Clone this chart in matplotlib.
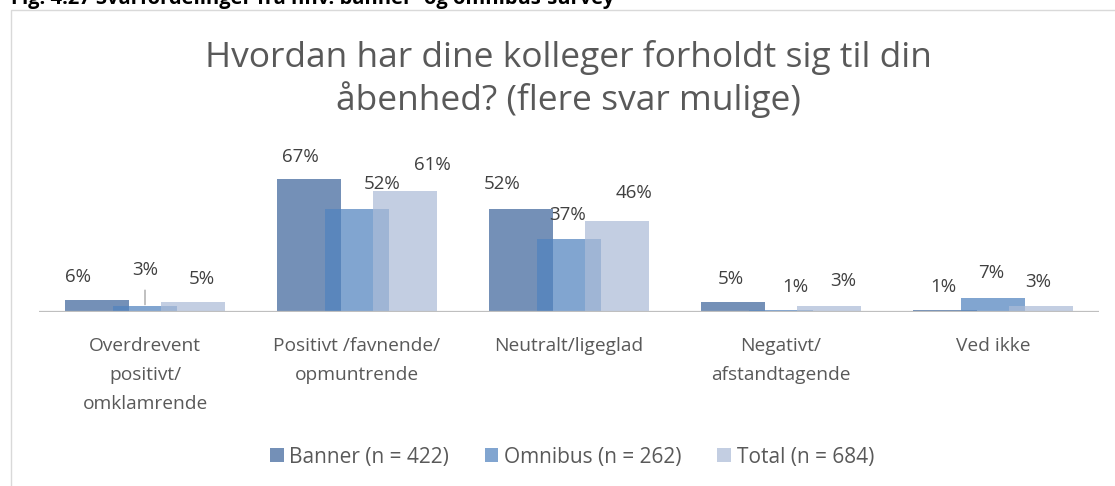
"""Grouped bar chart: colleagues' reaction to openness (banner vs omnibus survey)."""

import matplotlib

matplotlib.use("Agg")
import numpy as np
from matplotlib import pyplot as plt
from matplotlib.patches import Patch, Rectangle

categories = [
    "Overdrevent\npositivt/\nomklamrende",
    "Positivt /favnende/\nopmuntrende",
    "Neutralt/ligeglad",
    "Negativt/\nafstandtagende",
    "Ved ikke",
]
series_names = ["Banner (n = 422)", "Omnibus (n = 262)", "Total (n = 684)"]
banner = [6, 67, 52, 5, 1]
omnibus = [3, 52, 37, 1, 7]
total = [5, 61, 46, 3, 3]

title = "Hvordan har dine kolleger forholdt sig til din\nåbenhed? (flere svar mulige)"
heading = "Fig. 4.27 Svarfordelinger fra hhv. banner- og omnibus-survey"

# styling
colors = ["#3E669C", "#5183BE", "#ACBCD8"]
alpha = 0.72
offsets = [-0.2264, 0.0, 0.2264]
bar_width = 0.302
# label offsets in pixels (dx, dy from bar top to text centre), mimicking Excel placement
label_offsets = [
    [(-19, 23), (-9, 22), (-19, 25), (-2, 23), (-2, 23)],
    [(0, 36), (25, 25), (-1, 24), (14, 23), (-2, 25)],
    [(9, 23), (27, 26), (17, 28), (14, 25), (-3, 24)],
]
font = "Open Sans"
text_gray = "#595959"

W, H, DPI = 1115, 486, 100
fig = plt.figure(figsize=(W / DPI, H / DPI), dpi=DPI)

# chart frame border (only top/left visible in the crop)
fig.add_artist(Rectangle((10.5 / W, -0.2), 1.2, (H - 10.5) / H + 0.2,
                         transform=fig.transFigure, fill=False,
                         edgecolor="#D9D9D9", linewidth=1.0))
# page heading, cropped at the top edge as in the screenshot
fig.text(11 / W, (H - 4) / H, heading, fontfamily=font, fontweight="bold",
         fontsize=14.5, color="black", ha="left", va="baseline")

ax_left, ax_right, ax_bottom, ax_top = 39, 1099, 312, 150
ax = fig.add_axes([ax_left / W, (H - ax_bottom) / H,
                   (ax_right - ax_left) / W, (ax_bottom - ax_top) / H])

x = np.arange(len(categories))
all_series = [banner, omnibus, total]
for i, values in enumerate(all_series):
    ax.bar(x + offsets[i], values, width=bar_width, color=colors[i], alpha=alpha,
           linewidth=0, zorder=2 + i, label=series_names[i])
    for j, v in enumerate(values):
        dx, dy = label_offsets[i][j]
        kw = {}
        if i == 1 and j == 0:
            kw["arrowprops"] = dict(arrowstyle="-", color="#A6A6A6", lw=1.0,
                                    shrinkA=6, shrinkB=1)
        ax.annotate(f"{v}%", xy=(x[j] + offsets[i], v), xytext=(dx, dy),
                    textcoords="offset pixels", ha="center", va="center",
                    fontfamily=font, fontsize=13.5, color="#404040", zorder=10, **kw)

ax.axhline(0, color="#BFBFBF", linewidth=1.6, zorder=6)
ax.set_xlim(-0.5, len(categories) - 0.5)
ax.set_ylim(0, (ax_bottom - ax_top) / 1.985)
ax.set_xticks(x)
ax.set_xticklabels(categories, fontfamily=font, fontsize=13.8, color=text_gray,
                   linespacing=1.8)
ax.tick_params(axis="x", length=0, pad=18)
ax.set_yticks([])
for side in ax.spines.values():
    side.set_visible(False)
ax.patch.set_alpha(0)

fig.text(568 / W, (H - 79) / H, title, ha="center", va="center", fontfamily=font,
         fontsize=25.5, color=text_gray, linespacing=1.22)

handles = [Patch(facecolor=c, alpha=alpha, linewidth=0) for c in colors]
fig.legend(handles, series_names, loc="center", bbox_to_anchor=(572 / W, (H - 457) / H),
           ncol=3, frameon=False, handlelength=0.66, handleheight=0.66,
           handletextpad=0.28, columnspacing=1.7,
           prop={"family": font, "size": 15}, labelcolor=text_gray)

fig.savefig("out.png", dpi=DPI)
